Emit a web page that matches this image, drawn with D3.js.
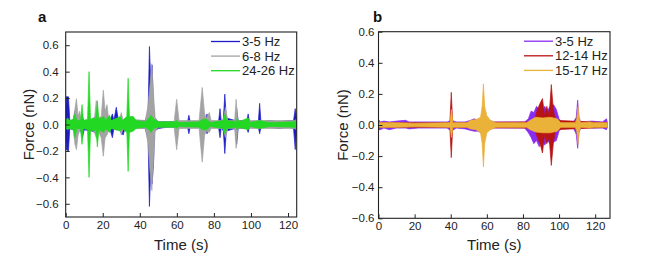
<!DOCTYPE html>
<html>
<head>
<meta charset="utf-8">
<script src="https://cdn.jsdelivr.net/npm/d3@7"></script>
<style>
  body { margin: 0; background: #fff; }
  svg { display: block; font-family: "Liberation Sans", Arial, sans-serif; }
  .axis path, .axis line { stroke: #222; }
  .axis text { fill: #222; font-size: 11.5px; }
</style>
</head>
<body>
<div id="chart"></div>
<script>
// envelopes: [time (s), upper (nN), lower (nN)]
const aBlue = [
  [0, 0.03, -0.03], [0.3, 0.21, -0.19], [1.5, 0.21, -0.2], [2.2, 0.03, -0.03],
  [4, 0.03, -0.04], [5, 0.1, -0.05], [5.8, 0.03, -0.04], [8, 0.04, -0.04],
  [9, 0.05, -0.1], [10, 0.03, -0.04], [14, 0.03, -0.05], [16, 0.06, -0.06],
  [17, 0.03, -0.03], [19, 0.03, -0.06], [21, 0.04, -0.04], [24, 0.03, -0.04],
  [25.2, 0.08, -0.1], [26, 0.03, -0.03], [27.3, 0.13, -0.04], [28.5, 0.03, -0.03],
  [31, 0.03, -0.08], [32, 0.03, -0.03], [36, 0.03, -0.03], [38, 0.03, -0.02],
  [43, 0.03, -0.03], [44.5, 0.1, -0.12], [45.2, 0.59, -0.62], [46, 0.3, -0.3],
  [46.6, 0.45, -0.45], [47.4, 0.15, -0.3], [48, 0.05, -0.05], [50, 0.02, -0.03],
  [55, 0.02, -0.02], [60, 0.02, -0.02], [65.8, 0.02, -0.02], [66.5, 0.07, -0.07],
  [67.2, 0.02, -0.02], [72, 0.02, -0.02], [75.5, 0.02, -0.02], [76.3, 0.08, -0.07],
  [77, 0.02, -0.02], [82.5, 0.02, -0.02], [83.3, 0.12, -0.1], [84, 0.02, -0.02],
  [85.1, 0.04, -0.05], [85.9, 0.23, -0.22], [86.7, 0.05, -0.05], [91.5, 0.03, -0.03],
  [92.3, 0.12, -0.15], [93.1, 0.03, -0.03], [97.8, 0.03, -0.03], [98.5, 0.08, -0.06],
  [99.2, 0.02, -0.02], [104, 0.02, -0.02], [104.7, 0.16, -0.07], [105.4, 0.02, -0.02],
  [110, 0.03, -0.02], [115, 0.02, -0.03], [120, 0.03, -0.02], [123, 0.03, -0.03],
  [123.9, 0.12, -0.19], [124.6, 0.05, -0.05]
];
const aGray = [
  [0, 0.03, -0.03], [4, 0.03, -0.03], [5, 0.12, -0.15], [5.8, 0.195, -0.19],
  [6.7, 0.06, -0.08], [7.5, 0.1, -0.05], [8.3, 0.03, -0.03], [13, 0.03, -0.03],
  [15.5, 0.04, -0.06], [16.5, 0.18, -0.1], [17.4, 0.05, -0.05], [19.2, 0.06, -0.1],
  [20.3, 0.26, -0.24], [21.3, 0.1, -0.1], [22.3, 0.15, -0.08], [23.3, 0.03, -0.03],
  [29, 0.03, -0.03], [30, 0.09, -0.08], [31, 0.03, -0.03], [35, 0.04, -0.03],
  [43, 0.03, -0.03], [44.5, 0.15, -0.15], [45.5, 0.3, -0.35], [46.5, 0.46, -0.5],
  [47.3, 0.25, -0.3], [48.3, 0.05, -0.05], [50, 0.02, -0.02], [58.5, 0.02, -0.02],
  [59.9, 0.19, -0.19], [61.2, 0.03, -0.03], [72, 0.03, -0.03], [73.7, 0.28, -0.285],
  [75, 0.08, -0.08], [76, 0.05, -0.05], [77.5, 0.09, -0.06], [78.5, 0.03, -0.03],
  [85, 0.03, -0.03], [86.2, 0.13, -0.1], [87.5, 0.03, -0.03], [91.2, 0.03, -0.03],
  [92, 0.19, -0.18], [92.9, 0.03, -0.03], [124.5, 0.03, -0.03]
];
const aGreen = [
  [0, 0.03, -0.03], [1, 0.05, -0.04], [2, 0.03, -0.03], [4.2, 0.04, -0.04],
  [5, 0.08, -0.1], [6, 0.03, -0.03], [8, 0.03, -0.03], [8.8, 0.15, -0.15],
  [9.6, 0.03, -0.03], [11.8, 0.04, -0.04], [12.6, 0.4, -0.4], [13.4, 0.04, -0.04],
  [15, 0.05, -0.05], [16.3, 0.04, -0.04], [17.1, 0.18, -0.17], [17.9, 0.04, -0.04],
  [20.5, 0.06, -0.06], [21.5, 0.03, -0.03], [23.7, 0.07, -0.06], [24.6, 0.03, -0.03],
  [29.5, 0.06, -0.05], [30.5, 0.03, -0.03], [33, 0.06, -0.06], [33.7, 0.35, -0.355],
  [34.4, 0.06, -0.06], [36.5, 0.06, -0.05], [38, 0.03, -0.03], [43, 0.02, -0.02],
  [45, 0.05, -0.04], [46, 0.07, -0.06], [47.5, 0.04, -0.03], [50, 0.02, -0.02],
  [59, 0.02, -0.02], [60, 0.03, -0.03], [61, 0.015, -0.015], [72, 0.02, -0.02],
  [74, 0.04, -0.04], [76, 0.04, -0.04], [78, 0.015, -0.015], [85, 0.03, -0.03],
  [86, 0.08, -0.07], [87, 0.03, -0.03], [92, 0.02, -0.02], [92.6, 0.05, -0.04],
  [93.4, 0.02, -0.02], [98.5, 0.05, -0.04], [99.5, 0.015, -0.015], [104.7, 0.03, -0.03],
  [110, 0.015, -0.015], [123.5, 0.02, -0.02], [124.3, 0.04, -0.04]
];

const bPurple = [
  [0, 0.035, -0.03], [1, 0.02, -0.03], [3, 0.025, -0.02], [6, 0.02, -0.03],
  [10, 0.025, -0.02], [15, 0.03, -0.02], [17, 0.02, -0.025], [22, 0.02, -0.02],
  [28, 0.02, -0.02], [33, 0.02, -0.02], [38, 0.02, -0.02], [40.4, 0.03, -0.04],
  [43, 0.02, -0.02], [48, 0.02, -0.025], [51, 0.03, -0.035], [53, 0.04, -0.04],
  [55, 0.03, -0.04], [57, 0.04, -0.05], [59, 0.04, -0.05], [61, 0.03, -0.03],
  [64, 0.02, -0.02], [70, 0.02, -0.02], [76, 0.02, -0.02], [81, 0.02, -0.02],
  [83, 0.04, -0.05], [84.5, 0.09, -0.08], [86, 0.08, -0.12], [87.5, 0.12, -0.1],
  [89, 0.1, -0.14], [90.5, 0.08, -0.09], [92, 0.12, -0.13], [93.5, 0.09, -0.1],
  [95, 0.12, -0.12], [97, 0.13, -0.11], [98.5, 0.1, -0.1], [100, 0.04, -0.04],
  [101.5, 0.02, -0.02], [108, 0.02, -0.02], [109.5, 0.05, -0.06], [110.3, 0.16, -0.15],
  [111, 0.05, -0.05], [112, 0.02, -0.02], [118, 0.025, -0.02], [124, 0.02, -0.02],
  [126.3, 0.04, -0.03], [126.8, 0.01, -0.01]
];
const bRed = [
  [0, 0.015, -0.015], [39.5, 0.015, -0.015], [40.3, 0.21, -0.21], [41.1, 0.015, -0.015],
  [86, 0.02, -0.02], [88, 0.1, -0.08], [89.5, 0.14, -0.12], [90.8, 0.17, -0.18],
  [92, 0.06, -0.06], [93.2, 0.12, -0.12], [94.5, 0.06, -0.08], [95.7, 0.26, -0.26],
  [96.8, 0.1, -0.12], [98, 0.03, -0.03], [126.8, 0.015, -0.015]
];
const bYellow = [
  [0, 0.015, -0.015], [10, 0.015, -0.015], [20, 0.012, -0.012], [39.6, 0.015, -0.015],
  [40.4, 0.1, -0.08], [41.2, 0.015, -0.015], [49, 0.015, -0.015], [51, 0.03, -0.025],
  [54, 0.035, -0.03], [56.5, 0.05, -0.05], [57.4, 0.12, -0.12], [58.1, 0.265, -0.27],
  [58.8, 0.12, -0.12], [60, 0.06, -0.05], [62, 0.03, -0.03], [65, 0.015, -0.015],
  [82, 0.015, -0.015], [84, 0.03, -0.03], [87, 0.05, -0.045], [91, 0.045, -0.05],
  [95, 0.05, -0.05], [99, 0.04, -0.04], [101, 0.015, -0.015], [109, 0.015, -0.015],
  [109.8, 0.04, -0.04], [110.5, 0.12, -0.12], [111.2, 0.04, -0.04], [112, 0.015, -0.015],
  [117, 0.02, -0.02], [119, 0.015, -0.015], [126.8, 0.015, -0.015]
];

const aLabels = ["3-5 Hz", "6-8 Hz", "24-26 Hz"];
const bLabels = ["3-5 Hz", "12-14 Hz", "15-17 Hz"];
const xTicks = [0, 20, 40, 60, 80, 100, 120];
const aYTicks = [-0.6, -0.4, -0.2, 0, 0.2, 0.4, 0.6];
const bYTicks = [-0.6, -0.4, -0.2, 0, 0.2, 0.4, 0.6];

const svg = d3.select("#chart").append("svg")
  .attr("width", 669)
  .attr("height", 275);

function drawPanel(p) {
  const x = d3.scaleLinear().domain(p.xDomain).range([p.left, p.right]);
  const y = d3.scaleLinear().domain(p.yDomain).range([p.bottom, p.top]);
  const g = svg.append("g");

  const clipId = "clip-" + p.name;
  g.append("clipPath").attr("id", clipId)
    .append("rect")
    .attr("x", p.left).attr("y", p.top)
    .attr("width", p.right - p.left).attr("height", p.bottom - p.top);

  const area = d3.area()
    .x(d => x(d[0]))
    .y0(d => y(d[2]))
    .y1(d => y(d[1]));

  const plot = g.append("g").attr("clip-path", "url(#" + clipId + ")");
  p.series.forEach((s, i) => {
    plot.append("path")
      .attr("d", area(s))
      .attr("fill", p.colors[i])
      .attr("stroke", p.colors[i])
      .attr("stroke-width", 0.7)
      .attr("stroke-linejoin", "round");
  });

  // axes, ticks pointing inward
  g.append("g")
    .attr("class", "axis")
    .attr("transform", "translate(0," + p.bottom + ")")
    .call(d3.axisBottom(x).tickValues(xTicks).tickSizeInner(-4).tickSizeOuter(0).tickPadding(4))
    .call(a => a.select(".domain").remove());

  g.append("g")
    .attr("class", "axis")
    .attr("transform", "translate(" + p.left + ",0)")
    .call(d3.axisLeft(y).tickValues(p.yTicks).tickSizeInner(-4).tickSizeOuter(0).tickPadding(p.yPad)
      .tickFormat(d3.format(".1f")))
    .call(a => a.select(".domain").remove());

  g.append("rect")
    .attr("x", p.left).attr("y", p.top)
    .attr("width", p.right - p.left).attr("height", p.bottom - p.top)
    .attr("fill", "none")
    .attr("stroke", "#222")
    .attr("stroke-width", 1.1);

  // legend
  const leg = g.append("g");
  p.labels.forEach((lab, i) => {
    const ly = p.top + 9.5 + i * 14.6;
    leg.append("line")
      .attr("x1", p.legX).attr("x2", p.legX + 29)
      .attr("y1", ly).attr("y2", ly)
      .attr("stroke", p.colors[i])
      .attr("stroke-width", 1.3);
    leg.append("text")
      .attr("x", p.legX + 31).attr("y", ly + 4.6)
      .attr("font-size", 13)
      .attr("fill", "#222")
      .text(lab);
  });

  g.append("text")
    .attr("x", (p.left + p.right) / 2)
    .attr("y", 249.5)
    .attr("text-anchor", "middle")
    .attr("font-size", 15)
    .attr("fill", "#222")
    .text("Time (s)");

  g.append("text")
    .attr("transform", "translate(" + p.titleX + "," + y(0) + ") rotate(-90)")
    .attr("text-anchor", "middle")
    .attr("font-size", 15)
    .attr("fill", "#222")
    .text("Force (nN)");

  g.append("text")
    .attr("x", p.tagX).attr("y", 22)
    .attr("font-size", 15)
    .attr("font-weight", "bold")
    .attr("fill", "#111")
    .text(p.tag);
}

drawPanel({
  name: "a", tag: "a", tagX: 38,
  left: 65.7, right: 296.7, top: 32, bottom: 217,
  xDomain: [0, 124.7], yDomain: [-0.7, 0.7], yTicks: aYTicks, yPad: 7,
  series: [aBlue, aGray, aGreen],
  colors: ["#1c1cc8", "#a3a3a3", "#22d822"],
  labels: aLabels, legX: 211, titleX: 34
});

drawPanel({
  name: "b", tag: "b", tagX: 373,
  left: 378.5, right: 610, top: 31.7, bottom: 218.3,
  xDomain: [0, 128.2], yDomain: [-0.6, 0.6], yTicks: bYTicks, yPad: 4,
  series: [bPurple, bRed, bYellow],
  colors: ["#8a2cf0", "#b81414", "#ebb23a"],
  labels: bLabels, legX: 524, titleX: 348
});
</script>
</body>
</html>
